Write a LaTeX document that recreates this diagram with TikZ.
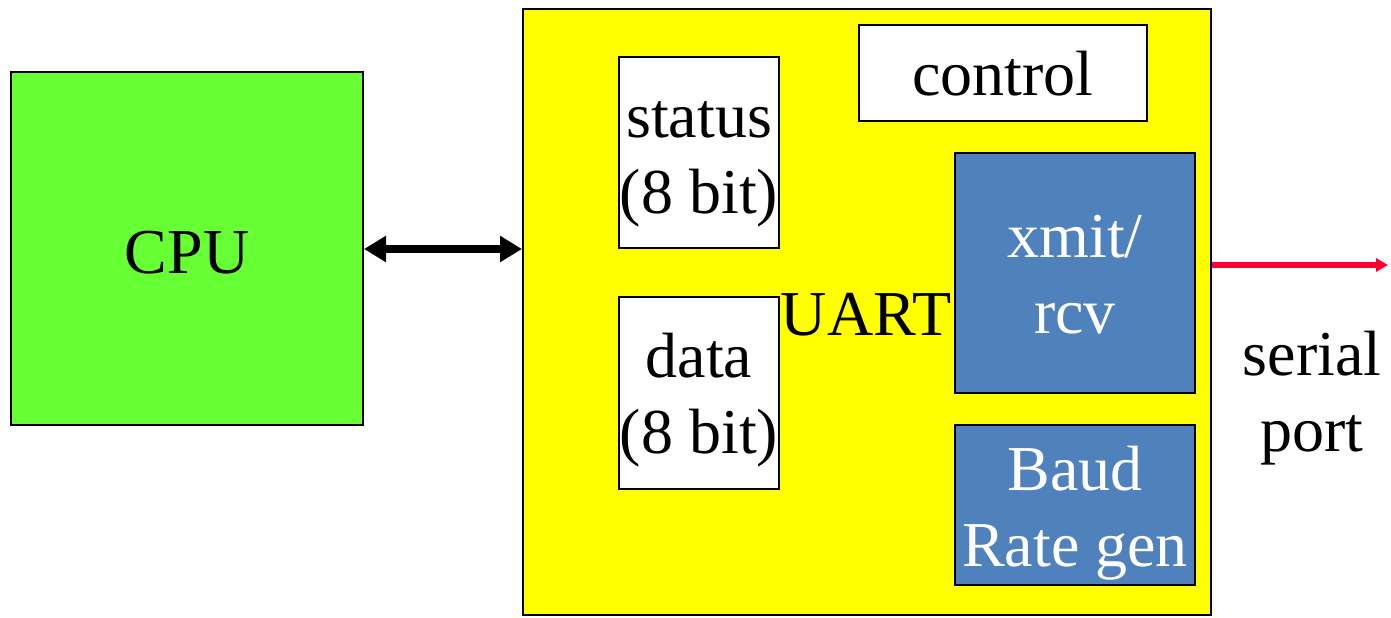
\documentclass[tikz,border=0pt]{standalone}
\usepackage{fontspec}
\setmainfont{Liberation Serif}
\usetikzlibrary{arrows.meta}
\definecolor{cpugreen}{HTML}{66FF33}
\definecolor{uartyellow}{HTML}{FFFF00}
\definecolor{boxblue}{HTML}{4F81BD}
\definecolor{serialred}{HTML}{FF0033}
\tikzset{
  blk/.style={draw=black, line width=1pt, inner sep=0pt},
  whitebox/.style={blk, fill=white},
  bluebox/.style={blk, fill=boxblue},
  txt/.style={inner sep=0pt, anchor=base, align=center,
    font=\fontsize{32}{38}\selectfont},
  wtxt/.style={txt, text=white},
}
\begin{document}
\begin{tikzpicture}[x=0.5pt, y=-0.5pt]
\useasboundingbox (0,0) rectangle (1391,617);
\node[blk, fill=cpugreen, minimum width=176pt, minimum height=176.5pt] (cpu) at (187,248.5) {};
\node[blk, fill=uartyellow, minimum width=344pt, minimum height=303pt] (uart) at (867,312) {};
\node[txt] (cputxt) at (187,273) {CPU};
\node[txt] (uarttxt) at (866,335) {UART};
\node[whitebox, minimum width=80pt, minimum height=95.5pt] (status) at (699,152.5) {};
\node[whitebox, minimum width=80pt, minimum height=96pt] (data) at (699,393) {};
\node[whitebox, minimum width=144pt, minimum height=48pt] (control) at (1003,73) {};
\node[bluebox, minimum width=120pt, minimum height=120pt] (xmit) at (1075,273) {};
\node[bluebox, minimum width=120pt, minimum height=80pt] (baud) at (1075,505) {};
\node[txt] (statustxt) at (699,213) {status\\(8 bit)};
\node[txt] (datatxt) at (699,453) {data\\(8 bit)};
\node[txt] (controltxt) at (1003,95) {control};
\node[wtxt] (xmittxt) at (1075,333) {xmit/\\rcv};
\node[wtxt] (baudtxt) at (1075,566) {Baud\\Rate gen};
\node[txt] (serial) at (1312,451) {serial\\port};
\coordinate (serialend) at (1388,265);
\draw[line width=4pt, {Triangle[length=11pt,width=12.5pt]}-{Triangle[length=11pt,width=12.5pt]}]
  (cpu.east |- 0,249) -- (uart.west |- 0,249);
\draw[serialred, line width=3pt, -{Triangle[length=6pt,width=6.5pt]}]
  (uart.east |- serialend) -- (serialend);
\end{tikzpicture}
\end{document}
